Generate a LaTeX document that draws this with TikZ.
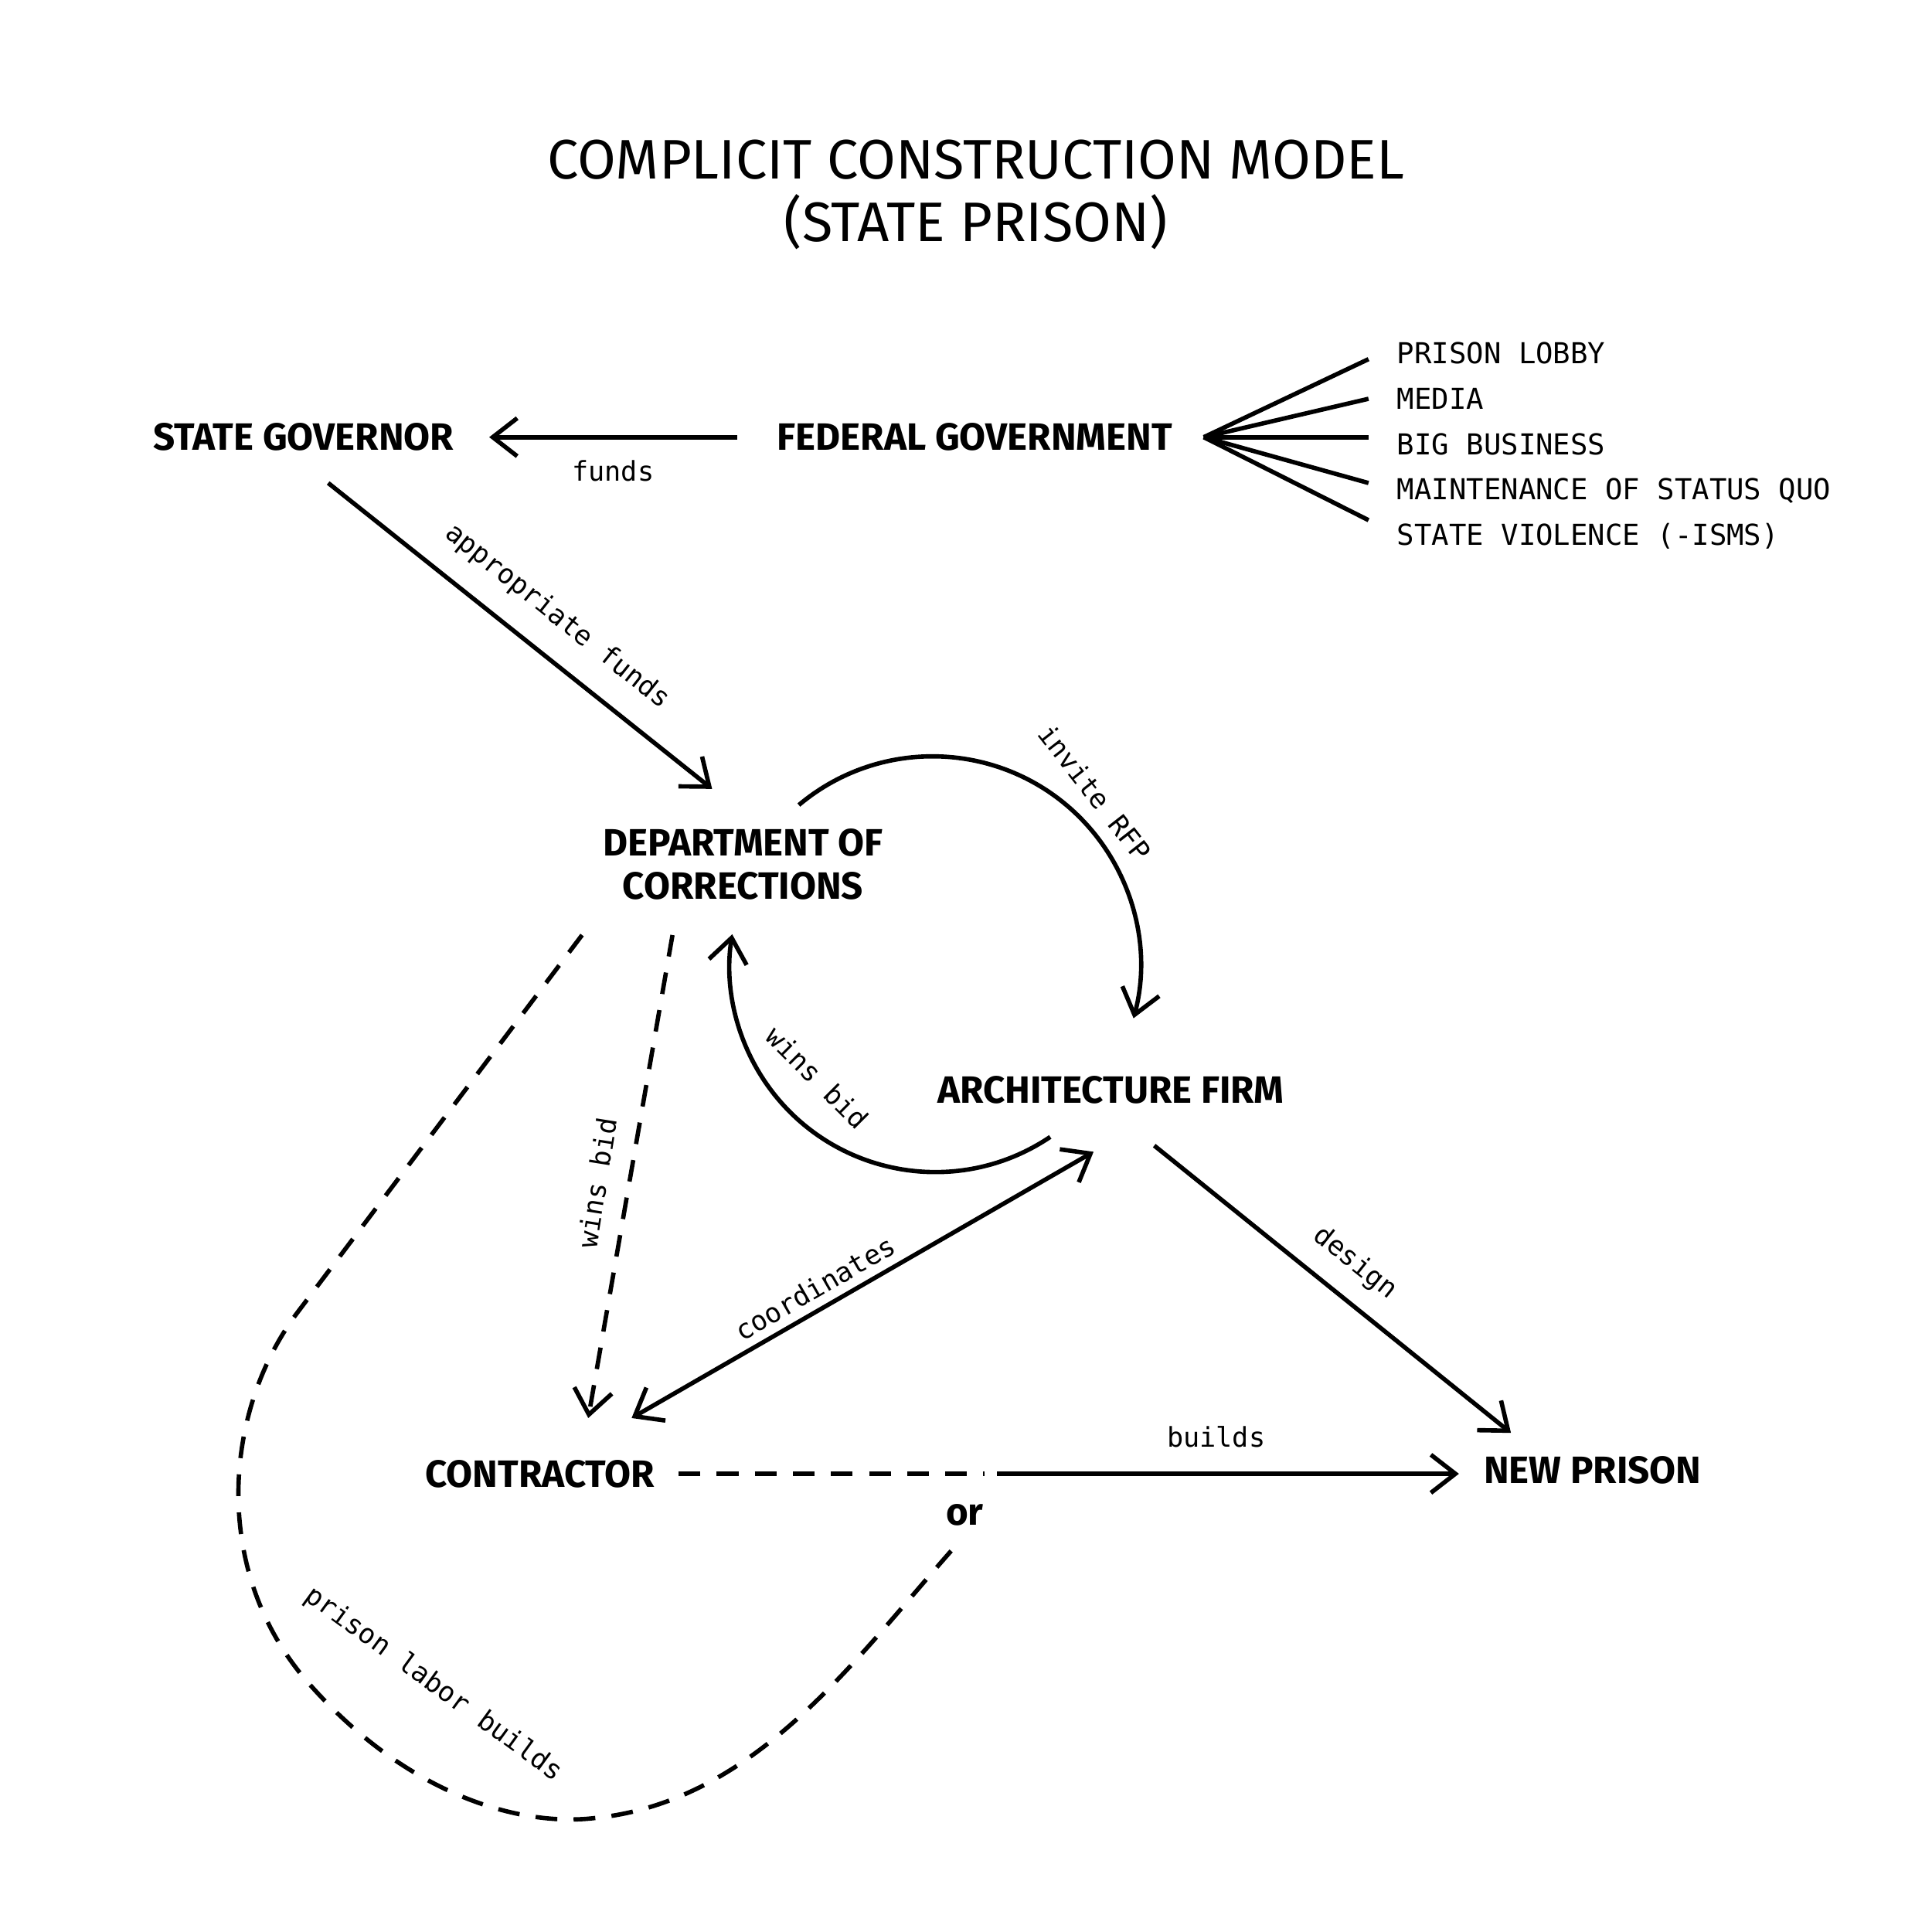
\documentclass[tikz,border=0pt]{standalone}
\usepackage{fontspec}
\setmainfont{Fira Sans}
\newfontfamily\monofont{DejaVu Sans Mono}
\usetikzlibrary{arrows.meta, positioning}
\begin{document}
\begin{tikzpicture}[x=0.016cm, y=-0.016cm, line width=1.6pt,
  actor/.style={font=\fontsize{14}{16}\selectfont\bfseries, align=center},
  lbl/.style={font=\monofont\fontsize{10}{12}\selectfont},
  item/.style={font=\monofont\fontsize{10.6}{13}\selectfont, anchor=west},
  arr/.style={-{Straight Barb[length=9pt,width=14pt,line width=1.6pt]}},
  dashed line/.style={dash pattern=on 8pt off 6pt}]
 \useasboundingbox (0,0) rectangle (1560,1560);

 \node[font=\fontsize{20.5}{23}\selectfont, align=center] (title) at (788,157) {COMPLICIT CONSTRUCTION MODEL\\(STATE PRISON)};

 \node[actor] (gov) at (245,353) {STATE GOVERNOR};
 \node[actor] (fed) at (787,353) {FEDERAL GOVERNMENT};
 \node[actor] (doc) at (600,698) {DEPARTMENT OF\\CORRECTIONS};
 \node[actor] (arch) at (897,880) {ARCHITECTURE FIRM};
 \node[actor] (con) at (436,1190) {CONTRACTOR};
 \node[actor] (new) at (1286,1187) {NEW PRISON};
 \node[actor] (or) at (779,1223) {or};

 % influences
 \coordinate (fan) at (972,353);
 \foreach \y [count=\i] in {290, 322, 353, 390, 420} {
  \coordinate (f\i) at (1105,\y);
  \draw (fan) -- (f\i);
 }
 \node[item] (i1) at (1119,285) {PRISON LOBBY};
 \node[item] (i2) at (1119,322) {MEDIA};
 \node[item] (i3) at (1119,359) {BIG BUSINESS};
 \node[item] (i4) at (1119,396) {MAINTENANCE OF STATUS QUO};
 \node[item] (i5) at (1119,433) {STATE VIOLENCE (-ISMS)};

 % flows
 \coordinate (fedW) at (595,353);
 \coordinate (govE) at (395,353);
 \draw[arr] (fedW) -- (govE);
 \node[lbl] (funds) at (495,380) {funds};

 \coordinate (govS) at (265,390);
 \coordinate (docN) at (575,637);
 \draw[arr] (govS) -- (docN);
 \node[lbl, rotate=-38.5] (appr) at (450,498) {appropriate funds};

 \draw[arr] (645,650) arc[start angle=-130, end angle=15, radius=168];
 \node[lbl, rotate=-52] (rfp) at (884,640) {invite RFP};
 \draw[arr] (848,918) arc[start angle=56, end angle=189, radius=166];
 \node[lbl, rotate=-45] (wins1) at (660,870) {wins bid};

 \coordinate (conNE) at (510,1145);
 \coordinate (archSW) at (883,930);
 \draw[{Straight Barb[length=9pt,width=14pt,line width=1.6pt]}-{Straight Barb[length=9pt,width=14pt,line width=1.6pt]}] (conNE) -- (archSW);
 \node[lbl, rotate=30] (coord) at (658,1040) {coordinates};

 \coordinate (archSE) at (932,925);
 \coordinate (newNW) at (1220,1157);
 \draw[arr] (archSE) -- (newNW);
 \node[lbl, rotate=-38.5] (design) at (1094,1020) {design};

 \coordinate (docS) at (543,755);
 \coordinate (conN) at (475,1145);
 \draw[arr, dashed line] (docS) -- (conN);
 \node[lbl, rotate=81] (wins2) at (482,955) {wins bid};

 \coordinate (conE) at (548,1190);
 \coordinate (orW) at (795,1190);
 \draw[dashed line] (conE) -- (orW);
 \coordinate (orE) at (805,1190);
 \coordinate (newW) at (1178,1190);
 \draw[arr] (orE) -- (newW);
 \node[lbl] (builds) at (982,1160) {builds};

 \coordinate (docSW) at (470,755);
 \coordinate (orS) at (770,1250);
 \draw[dashed line] (docSW) -- (240,1060) .. controls (180,1140) and (170,1270) .. (250,1360)
   .. controls (330,1450) and (420,1475) .. (480,1468)
   .. controls (610,1455) and (690,1340) .. (orS);
 \node[lbl, rotate=-36] (labor) at (350,1360) {prison labor builds};
\end{tikzpicture}
\end{document}
